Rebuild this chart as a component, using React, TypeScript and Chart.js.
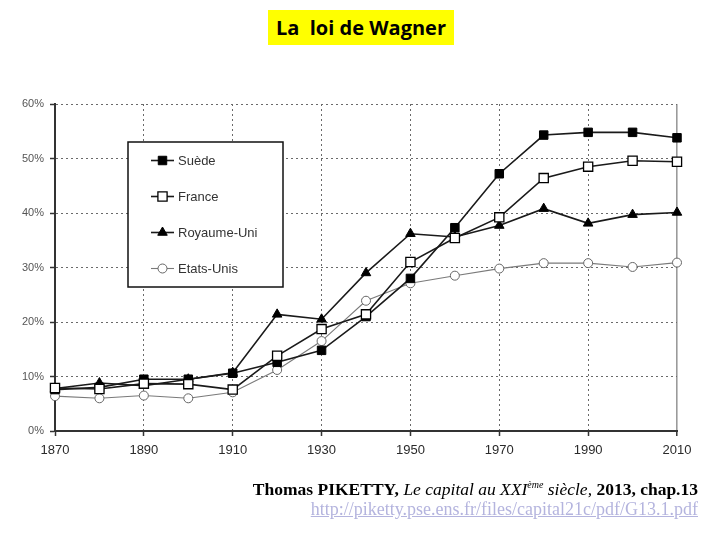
import React, { useEffect, useRef } from 'react';
import { Chart, registerables } from 'chart.js';

Chart.register(...registerables);

const years = [1870, 1880, 1890, 1900, 1910, 1920, 1930, 1940, 1950, 1960, 1970, 1980, 1990, 2000, 2010];
const suede = [7.6, 8.0, 9.5, 9.5, 10.6, 12.6, 14.8, 21.0, 28.0, 37.3, 47.2, 54.3, 54.8, 54.8, 53.8];
const france = [7.9, 7.7, 8.7, 8.6, 7.6, 13.8, 18.7, 21.4, 31.0, 35.4, 39.2, 46.4, 48.5, 49.6, 49.4];
const royaumeUni = [7.8, 8.8, 8.3, 9.5, 10.7, 21.4, 20.5, 29.0, 36.2, 35.6, 37.7, 40.8, 38.1, 39.7, 40.1];
const etatsUnis = [6.4, 6.0, 6.5, 6.0, 7.1, 11.2, 16.5, 23.9, 27.1, 28.5, 29.8, 30.8, 30.8, 30.1, 30.9];
const seriesLabels = ['Suède', 'France', 'Royaume-Uni', 'Etats-Unis'];
const xTicks = [1870, 1890, 1910, 1930, 1950, 1970, 1990, 2010];
const yTicks = [0, 10, 20, 30, 40, 50, 60];

const FONT = "'Liberation Sans', Arial, sans-serif";

function drawMarker(ctx: CanvasRenderingContext2D, style: string, x: number, y: number, r: number, fill: string, stroke: string, lw: number) {
  ctx.save();
  ctx.beginPath();
  if (style === 'rect') {
    const s = r * Math.SQRT1_2;
    ctx.rect(x - s, y - s, 2 * s, 2 * s);
  } else if (style === 'triangle') {
    ctx.moveTo(x, y - r);
    ctx.lineTo(x + r * 0.866, y + r * 0.5);
    ctx.lineTo(x - r * 0.866, y + r * 0.5);
    ctx.closePath();
  } else {
    ctx.arc(x, y, r, 0, Math.PI * 2);
  }
  ctx.fillStyle = fill;
  ctx.fill();
  ctx.lineWidth = lw;
  ctx.strokeStyle = stroke;
  ctx.stroke();
  ctx.restore();
}

const boxLegend = {
  id: 'boxLegend',
  afterDatasetsDraw(chart: any) {
    const ctx: CanvasRenderingContext2D = chart.ctx;
    const ca = chart.chartArea;
    const bx = ca.left + 73;
    const by = ca.top + 38;
    const bw = 155;
    const bh = 145;
    ctx.save();
    ctx.fillStyle = '#ffffff';
    ctx.fillRect(bx, by, bw, bh);
    ctx.strokeStyle = '#111';
    ctx.lineWidth = 1.5;
    ctx.strokeRect(bx, by, bw, bh);
    chart.data.datasets.forEach((ds: any, i: number) => {
      const y = by + 18.5 + i * 36;
      const x0 = bx + 23;
      const x1 = bx + 46;
      ctx.beginPath();
      ctx.strokeStyle = ds.borderColor;
      ctx.lineWidth = ds.borderWidth;
      ctx.moveTo(x0, y);
      ctx.lineTo(x1, y);
      ctx.stroke();
      drawMarker(ctx, ds.pointStyle, (x0 + x1) / 2, y, ds.pointRadius, ds.pointBackgroundColor, ds.pointBorderColor, ds.pointBorderWidth);
      ctx.fillStyle = '#333';
      ctx.font = `13px ${FONT}`;
      ctx.textAlign = 'left';
      ctx.textBaseline = 'middle';
      ctx.fillText(ds.label, x1 + 4, y + 0.5);
    });
    ctx.restore();
  },
};

export default function App() {
  const ref = useRef<HTMLCanvasElement>(null);

  useEffect(() => {
    if (!ref.current) return;
    const chart = new Chart(ref.current, {
      type: 'line',
      data: {
        datasets: [
          {
            label: seriesLabels[0],
            data: years.map((y, i) => ({ x: y, y: suede[i] })),
            borderColor: '#1a1a1a',
            borderWidth: 1.6,
            pointStyle: 'rect',
            pointRadius: 6,
            pointBackgroundColor: '#000',
            pointBorderColor: '#000',
            pointBorderWidth: 1,
            order: 1,
            clip: false,
          },
          {
            label: seriesLabels[1],
            data: years.map((y, i) => ({ x: y, y: france[i] })),
            borderColor: '#1a1a1a',
            borderWidth: 1.6,
            pointStyle: 'rect',
            pointRadius: 6.5,
            pointBackgroundColor: '#fff',
            pointBorderColor: '#000',
            pointBorderWidth: 1.3,
            order: 0,
            clip: false,
          },
          {
            label: seriesLabels[2],
            data: years.map((y, i) => ({ x: y, y: royaumeUni[i] })),
            borderColor: '#1a1a1a',
            borderWidth: 1.6,
            pointStyle: 'triangle',
            pointRadius: 5.5,
            pointBackgroundColor: '#000',
            pointBorderColor: '#000',
            pointBorderWidth: 1,
            order: 2,
            clip: false,
          },
          {
            label: seriesLabels[3],
            data: years.map((y, i) => ({ x: y, y: etatsUnis[i] })),
            borderColor: '#7a7a7a',
            borderWidth: 1.1,
            pointStyle: 'circle',
            pointRadius: 4.5,
            pointBackgroundColor: '#fff',
            pointBorderColor: '#666',
            pointBorderWidth: 1,
            order: 3,
            clip: false,
          },
        ],
      },
      options: {
        animation: false,
        responsive: false,
        devicePixelRatio: 1,
        layout: { padding: { left: 10, right: 43, top: 104, bottom: 79 } },
        plugins: { legend: { display: false }, tooltip: { enabled: false } },
        elements: { line: { tension: 0 } },
        scales: {
          x: {
            type: 'linear',
            min: 1870,
            max: 2010,
            afterBuildTicks: (axis: any) => {
              axis.ticks = xTicks.map((v) => ({ value: v }));
            },
            afterFit: (scale: any) => {
              scale.height = 30;
            },
            ticks: {
              callback: (v: any) => String(v),
              color: '#2a2a2a',
              font: { family: FONT, size: 13 },
              padding: 7,
              maxRotation: 0,
              autoSkip: false,
            },
            grid: {
              color: (c: any) => (c.tick && c.tick.value === 1870 ? 'rgba(0,0,0,0)' : c.tick && c.tick.value === 2010 ? '#9a9a9a' : '#6a6a6a'),
              lineWidth: (c: any) => (c.tick && c.tick.value === 2010 ? 1.6 : 1),
              tickLength: 5,
              tickColor: '#333',
              tickWidth: 1.5,
              tickBorderDash: [],
            },
            border: {
              display: true,
              color: '#333',
              width: 2,
              dash: (c: any) => (c.tick && c.tick.value === 2010 ? [] : [2, 3]),
            },
          },
          y: {
            type: 'linear',
            min: 0,
            max: 60,
            afterBuildTicks: (axis: any) => {
              axis.ticks = yTicks.map((v) => ({ value: v }));
            },
            afterFit: (scale: any) => {
              scale.width = 45;
            },
            ticks: {
              callback: (v: any) => `${v}%`,
              color: '#555',
              font: { family: FONT, size: 11 },
              padding: 6,
            },
            grid: {
              color: (c: any) => (c.tick && c.tick.value === 0 ? 'rgba(0,0,0,0)' : '#6a6a6a'),
              lineWidth: 1,
              tickLength: 5,
              tickColor: '#333',
              tickWidth: 1.5,
              tickBorderDash: [],
            },
            border: {
              display: true,
              color: '#333',
              width: 2,
              dash: [2, 3],
            },
          },
        },
      } as any,
      plugins: [boxLegend],
    });
    return () => chart.destroy();
  }, []);

  return (
    <div style={{ position: 'fixed', left: 0, top: 0, width: 720, height: 540, background: '#fff', overflow: 'hidden' }}>
      <canvas ref={ref} width={720} height={540} style={{ position: 'absolute', left: 0, top: 0, width: 720, height: 540 }} />
      <div
        style={{
          position: 'absolute',
          left: 268,
          top: 10,
          width: 186,
          height: 35,
          background: '#ffff00',
          display: 'flex',
          alignItems: 'center',
          justifyContent: 'center',
          fontFamily: "'Open Sans', sans-serif",
          fontWeight: 700,
          fontSize: 20,
          color: '#000',
          whiteSpace: 'pre',
        }}
      >
        {'La  loi de Wagner'}
      </div>
      <div
        style={{
          position: 'absolute',
          right: 22,
          top: 479,
          fontFamily: "'Liberation Serif', 'Times New Roman', serif",
          fontSize: 17.5,
          color: '#000',
          whiteSpace: 'nowrap',
          lineHeight: '20px',
          fontWeight: 700,
        }}
      >
        Thomas PIKETTY,{' '}
        <i style={{ fontWeight: 400 }}>
          Le capital au XXI<sup style={{ fontSize: 10, verticalAlign: 'super', lineHeight: 0 }}>ème</sup> siècle,
        </i>{' '}
        2013, chap.13
      </div>
      <div
        style={{
          position: 'absolute',
          right: 22,
          top: 499,
          fontFamily: "'Liberation Serif', 'Times New Roman', serif",
          fontSize: 18,
          color: '#b4b4de',
          textDecoration: 'underline',
          whiteSpace: 'nowrap',
          lineHeight: '20px',
        }}
      >
        http://piketty.pse.ens.fr/files/capital21c/pdf/G13.1.pdf
      </div>
    </div>
  );
}
